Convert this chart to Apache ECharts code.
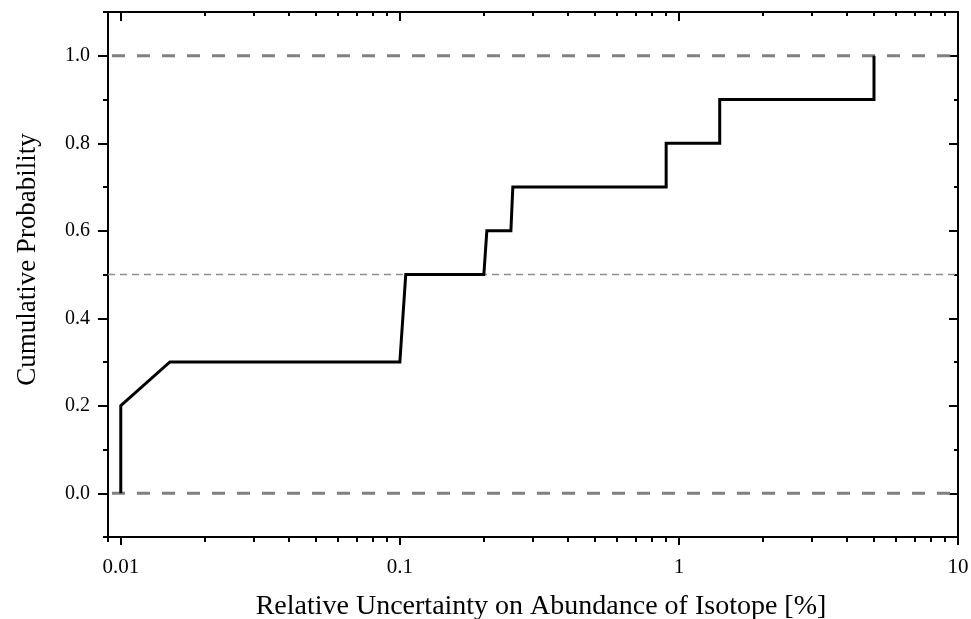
<!DOCTYPE html>
<html>
<head>
<meta charset="utf-8">
<script src="https://cdn.jsdelivr.net/npm/echarts@6/dist/echarts.min.js"></script>
<style>
  html, body { margin: 0; padding: 0; background: #fff; }
  #chart { width: 971px; height: 619px; }
</style>
</head>
<body>
<div id="chart"></div>
<script>
// step curve (x = relative uncertainty in %, y = cumulative probability)
const uncertainty = [0.01, 0.01, 0.015, 0.1, 0.105, 0.2, 0.205, 0.25, 0.254, 0.9, 0.9, 1.4, 1.4, 5, 5]
const probability = [0.0, 0.2, 0.3, 0.3, 0.5, 0.5, 0.6, 0.6, 0.7, 0.7, 0.8, 0.8, 0.9, 0.9, 1.0]

// reference lines
const boundLevels = [0, 1]
const boundStart = 0.0093
const medianLevel = 0.5

// axis ticks
const xMajorTicks = [0.01, 0.1, 1, 10]
const xMinorTicks = [0.009,
  0.02, 0.03, 0.04, 0.05, 0.06, 0.07, 0.08, 0.09,
  0.2, 0.3, 0.4, 0.5, 0.6, 0.7, 0.8, 0.9,
  2, 3, 4, 5, 6, 7, 8, 9]
const yMajorTicks = [0, 0.2, 0.4, 0.6, 0.8, 1.0]
const yMinorTicks = [-0.1, 0.1, 0.3, 0.5, 0.7, 0.9, 1.1]

const font = 'Liberation Serif'
const xMin = 0.009
const xMax = 10
const yMin = -0.1
const yMax = 1.1

const chart = echarts.init(document.getElementById('chart'), null, { renderer: 'canvas' })

function xAxisDef(position, ticks, len, inside, showLine, withLabels) {
  return {
    type: 'log',
    logBase: 10,
    position: position,
    min: xMin,
    max: xMax,
    splitLine: { show: false },
    minorTick: { show: false },
    axisLine: { show: showLine, onZero: false, lineStyle: { color: '#000', width: 2 } },
    axisTick: { show: true, inside: inside, length: len, customValues: ticks, lineStyle: { color: '#000', width: 2 } },
    axisLabel: withLabels ? {
      show: true,
      customValues: xMajorTicks,
      margin: 20,
      color: '#000',
      fontFamily: font,
      fontSize: 21,
      formatter: v => String(+Number(v).toPrecision(3))
    } : { show: false },
    axisPointer: { show: false }
  }
}

function yAxisDef(position, ticks, len, inside, showLine, withLabels) {
  return {
    type: 'value',
    position: position,
    min: yMin,
    max: yMax,
    splitLine: { show: false },
    axisLine: { show: showLine, onZero: false, lineStyle: { color: '#000', width: 2 } },
    axisTick: { show: true, inside: inside, length: len, customValues: ticks, lineStyle: { color: '#000', width: 2 } },
    axisLabel: withLabels ? {
      show: true,
      customValues: yMajorTicks,
      margin: 18,
      color: '#000',
      fontFamily: font,
      fontSize: 20,
      formatter: v => Number(v).toFixed(1)
    } : { show: false }
  }
}

const xAxes = [
  xAxisDef('bottom', xMajorTicks, 8, false, true, true),
  xAxisDef('bottom', xMinorTicks, 5, false, false, false),
  xAxisDef('top', xMajorTicks, 9, true, true, false),
  xAxisDef('top', xMinorTicks, 4, true, false, false)
]
xAxes[0].name = 'Relative Uncertainty on Abundance of Isotope [%]'
xAxes[0].nameLocation = 'middle'
xAxes[0].nameGap = 56
xAxes[0].nameTextStyle = { color: '#000', fontFamily: font, fontSize: 28, padding: [0, 0, 0, 16] }

const yAxes = [
  yAxisDef('left', yMajorTicks, 10, false, true, true),
  yAxisDef('left', yMinorTicks, 5, false, false, false),
  yAxisDef('right', yMajorTicks, 9, true, true, false),
  yAxisDef('right', yMinorTicks, 4, true, false, false)
]
yAxes[0].name = 'Cumulative Probability'
yAxes[0].nameLocation = 'middle'
yAxes[0].nameGap = 67
yAxes[0].nameTextStyle = { color: '#000', fontFamily: font, fontSize: 27, padding: [0, 0, 0, 30] }

const boundSeries = boundLevels.map(level => ({
  type: 'line',
  xAxisIndex: 0,
  yAxisIndex: 0,
  data: [[boundStart, level], [xMax, level]],
  symbol: 'none',
  silent: true,
  z: 1,
  lineStyle: { color: '#808080', width: 3, type: [13, 12] }
}))

chart.setOption({
  animation: false,
  backgroundColor: '#fff',
  grid: { left: 108, right: 13, top: 12, bottom: 82, outerBoundsMode: 'none' },
  xAxis: xAxes,
  yAxis: yAxes,
  series: [
    ...boundSeries,
    {
      type: 'line',
      xAxisIndex: 0,
      yAxisIndex: 0,
      data: [[xMin, medianLevel], [xMax, medianLevel]],
      symbol: 'none',
      silent: true,
      z: 1,
      lineStyle: { color: '#909090', width: 1.5, type: [7, 5] }
    },
    {
      name: 'cdf',
      type: 'line',
      xAxisIndex: 0,
      yAxisIndex: 0,
      data: uncertainty.map((x, i) => [x, probability[i]]),
      symbol: 'none',
      z: 3,
      lineStyle: { color: '#000', width: 3, join: 'miter' }
    }
  ]
})
</script>
</body>
</html>
